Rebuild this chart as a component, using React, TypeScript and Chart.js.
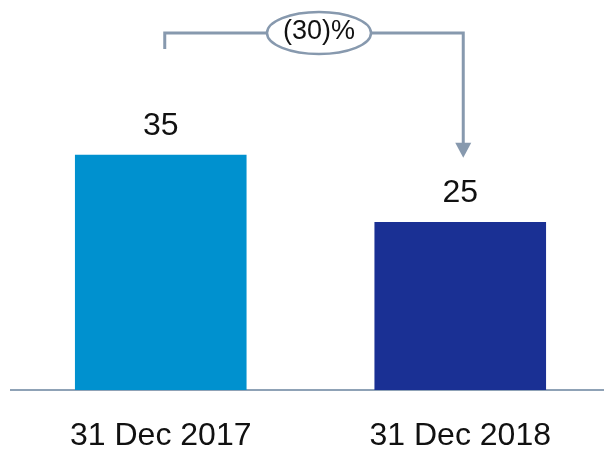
import React, { useEffect, useRef } from "react";
import { Chart, registerables } from "chart.js";

Chart.register(...registerables);

const categories: string[] = ["31 Dec 2017", "31 Dec 2018"];
const values: number[] = [35, 25];
const barColors: string[] = ["#0091CF", "#1A3094"];
const changeLabel = "(30)%";
const yMax = 58;

const lineColor = "#8799AE";

const overlayPlugin = {
  id: "overlay",
  afterDatasetsDraw(chart: any) {
    const ctx = chart.ctx;
    const meta = chart.getDatasetMeta(0);
    const xs = chart.scales.x;
    const ys = chart.scales.y;
    ctx.save();
    // value labels
    ctx.fillStyle = "#111111";
    ctx.font = "32px 'Liberation Sans', Arial, sans-serif";
    ctx.textAlign = "center";
    ctx.textBaseline = "alphabetic";
    meta.data.forEach((bar: any, i: number) => {
      ctx.fillText(String(values[i]), bar.x, bar.y - 20);
    });
    // bracket annotation
    const x0 = xs.getPixelForValue(0) + 4;
    const x1 = xs.getPixelForValue(1) + 3;
    const yTop = chart.chartArea.top + 33;
    const yLeftEnd = yTop + 16;
    const yTip = ys.getPixelForValue(values[0]) + 3;
    ctx.strokeStyle = lineColor;
    ctx.lineWidth = 3;
    ctx.lineJoin = "miter";
    ctx.beginPath();
    ctx.moveTo(x0, yLeftEnd);
    ctx.lineTo(x0, yTop);
    ctx.lineTo(x1, yTop);
    ctx.lineTo(x1, yTip - 14);
    ctx.stroke();
    ctx.fillStyle = lineColor;
    ctx.beginPath();
    ctx.moveTo(x1 - 8, yTip - 15);
    ctx.lineTo(x1 + 8, yTip - 15);
    ctx.lineTo(x1, yTip);
    ctx.closePath();
    ctx.fill();
    // ellipse
    const cx = (x0 + x1) / 2 + 5;
    ctx.beginPath();
    ctx.ellipse(cx, yTop, 52, 21, 0, 0, Math.PI * 2);
    ctx.fillStyle = "#ffffff";
    ctx.fill();
    ctx.lineWidth = 2.5;
    ctx.strokeStyle = lineColor;
    ctx.stroke();
    ctx.fillStyle = "#111111";
    ctx.font = "27px 'Liberation Sans', Arial, sans-serif";
    ctx.textAlign = "center";
    ctx.textBaseline = "middle";
    ctx.fillText(changeLabel, cx, yTop - 1);
    ctx.restore();
  },
};

export default function App() {
  const canvasRef = useRef<HTMLCanvasElement | null>(null);

  useEffect(() => {
    if (!canvasRef.current) return;
    const chart = new Chart(canvasRef.current, {
      type: "bar",
      data: {
        labels: categories,
        datasets: [
          {
            data: values,
            backgroundColor: barColors,
            borderWidth: 0,
            categoryPercentage: 1,
            barPercentage: 0.573,
          },
        ],
      },
      options: {
        animation: false,
        responsive: true,
        maintainAspectRatio: false,
        layout: { padding: { left: 11, right: 10, top: 0, bottom: 0 } },
        plugins: {
          legend: { display: false },
          tooltip: { enabled: false },
        },
        scales: {
          x: {
            grid: { display: false, drawTicks: false },
            border: { display: true, color: "#8FA2B6", width: 2 },
            ticks: {
              color: "#111111",
              font: { family: "'Liberation Sans', Arial, sans-serif", size: 32 },
              padding: 27,
            },
            afterFit: (scale: any) => {
              scale.height = 60;
            },
          },
          y: {
            display: false,
            min: 0,
            max: yMax,
          },
        },
      },
      plugins: [overlayPlugin],
    });
    return () => chart.destroy();
  }, []);

  return (
    <div
      style={{
        position: "absolute",
        left: 0,
        top: 0,
        width: 604,
        height: 450,
        overflow: "hidden",
        background: "#ffffff",
      }}
    >
      <div style={{ position: "relative", width: 620, height: 450 }}>
        <canvas ref={canvasRef} />
      </div>
    </div>
  );
}
